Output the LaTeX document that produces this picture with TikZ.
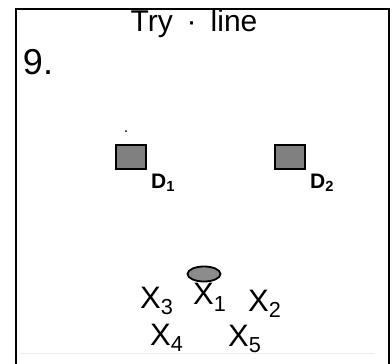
\documentclass[tikz,border=0pt]{standalone}
\usepackage{fontspec}
\setmainfont{Liberation Sans}
\usetikzlibrary{shapes.geometric}
\begin{document}
\begin{tikzpicture}
[x=1pt,y=-1pt,every node/.style={inner sep=0pt, font=\fontsize{31}{31}\selectfont},
 detector/.style={rectangle, draw=black, line width=2.2pt, fill=black!50, minimum width=30pt, minimum height=24pt},
 hit/.style={anchor=base west}]
\useasboundingbox (0,0) rectangle (392,364);
\def \lw {2.6pt} % width of the frame line
% frame, open at the bottom
\draw[line width=\lw] (16,364) -- (16,9) -- (389,9) -- (389,364);
\draw[gray!15, line width=1pt] (20,353) -- (375,353);
\node(title) at (194,24) {\fontsize{30}{30}\selectfont Try\hspace{14pt}\textperiodcentered\hspace{14pt}line};
\node(num) at (38,62) {\fontsize{36}{36}\selectfont 9.};
% detectors
\fill (126,131) circle (1);
\node[detector](d1) at (131,157) {};
\node[detector](d2) at (290,157) {};
\node[anchor=west](l1) at (151,183) {\fontsize{21}{21}\selectfont\bfseries D\textsubscript{1}};
\node[anchor=west](l2) at (310,183) {\fontsize{21}{21}\selectfont\bfseries D\textsubscript{2}};
% source above x1
\node[ellipse, draw=black, line width=1.8pt, fill=black!45, minimum width=33pt, minimum height=15pt](src) at (204,274) {};
% points
\foreach \s/\x/\y in {3/140/308, 1/193/305, 2/248/311, 4/150/345, 5/228/346}
{
  \node[hit](x\s) at (\x,\y) {X\textsubscript{\s}};
}
\end{tikzpicture}
\end{document}
